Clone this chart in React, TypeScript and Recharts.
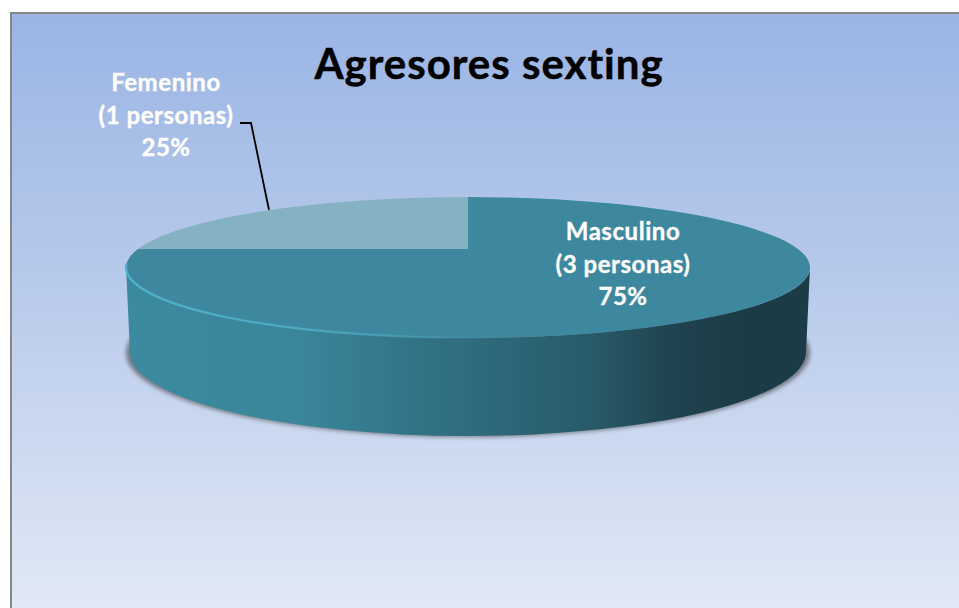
import React from "react";
import { PieChart, Pie } from "recharts";

const categories = ["Masculino", "Femenino"];
const personas = [3, 1];
const percentages = ["75%", "25%"];
const chartTitle = "Agresores sexting";
const sliceColors = ["#3e889f", "#85b2c3"];

const tableData = categories.map((name, i) => ({
  name,
  value: personas[i],
  percentage: percentages[i],
  fill: sliceColors[i],
}));

const W = 959;
const H = 608;
const FONT = "Lato, Carlito, Calibri, sans-serif";
const APEX_X = 468;
const APEX_Y = 249;
const RX = 342;
const RY = 70.5;
const FACE_CY = 267.5;
const BOTTOM_CY = 352;
const BOTTOM_RX = 338;
const BOTTOM_RY = 84;

const labelPos = [
  { x: 623, y: 240 },
  { x: 166, y: 91 },
];
const LINE_H = 32.5;

const rimPoint = (angle: number, cx: number, cy: number, rx: number) => {
  const rad = (angle * Math.PI) / 180;
  const py = (cy - FACE_CY) / RY;
  const dx = Math.cos(rad);
  const dy = -Math.sin(rad);
  const b = py * dy;
  const t = -b + Math.sqrt(b * b - (py * py - 1));
  return { x: cx + t * dx * rx, y: FACE_CY + (py + t * dy) * RY };
};

const Slice = (props: any) => {
  const { cx, cy, outerRadius, startAngle, endAngle, fill, index } = props;
  const a = rimPoint(startAngle, cx, cy, outerRadius);
  const b = rimPoint(endAngle, cx, cy, outerRadius);
  const large = Math.abs(endAngle - startAngle) > 180 ? 1 : 0;
  const top = `M${cx},${cy}L${a.x},${a.y}A${outerRadius},${RY} 0 ${large} 1 ${b.x},${b.y}Z`;
  const L = cx - outerRadius;
  const R = cx + outerRadius;
  const bL = cx - BOTTOM_RX;
  const bR = cx + BOTTOM_RX;
  return (
    <g>
      {index === 0 && (
        <g>
          <ellipse cx={cx} cy={BOTTOM_CY + 1} rx={BOTTOM_RX + 4} ry={BOTTOM_RY} fill="#4a4a4a" opacity={0.65} filter="url(#soft)" />
          <path
            d={`M${L},${FACE_CY}L${bL},${BOTTOM_CY}A${BOTTOM_RX},${BOTTOM_RY} 0 0 0 ${bR},${BOTTOM_CY}L${R},${FACE_CY}A${outerRadius},${RY} 0 0 1 ${L},${FACE_CY}Z`}
            fill="url(#wall)"
          />
        </g>
      )}
      <path d={top} fill={fill} />
      {index === 0 && (
        <path
          d={`M${L + 0.5},${FACE_CY - 4}A${outerRadius},${RY} 0 0 0 ${cx + 30},${FACE_CY + RY - 0.5}`}
          fill="none"
          stroke="url(#rim)"
          strokeWidth={2.2}
          filter="url(#softRim)"
        />
      )}
    </g>
  );
};

const SliceLabel = (props: any) => {
  const { index, payload } = props;
  const p = labelPos[index];
  const item = payload ?? tableData[index];
  const lines = [item.name, `(${item.value} personas)`, item.percentage];
  return (
    <text
      fill="#ffffff"
      stroke="#ffffff"
      strokeWidth={0.35}
      fontFamily={FONT}
      fontWeight={700}
      fontSize={24}
      letterSpacing={0.55}
      textAnchor="middle"
    >
      {lines.map((l: string, i: number) => (
        <tspan key={i} x={p.x} y={p.y + i * LINE_H}>
          {l}
        </tspan>
      ))}
    </text>
  );
};

const Leader = (props: any) => {
  if (props.index !== 1) return <g />;
  return <polyline points="240,123 251,123 269,210" fill="none" stroke="#000000" strokeWidth={1.8} />;
};

export default function App() {
  return (
    <div style={{ position: "absolute", left: 0, top: 0, width: W, height: H, background: "#fff", overflow: "hidden" }}>
      <PieChart width={W} height={H} margin={{ top: 0, right: 0, bottom: 0, left: 0 }}>
        <defs>
          <linearGradient id="bg" x1="0" y1="0" x2="0" y2="1">
            <stop offset="0" stopColor="#9ab4e4" />
            <stop offset="0.5" stopColor="#bccdec" />
            <stop offset="1" stopColor="#e3eaf6" />
          </linearGradient>
          <linearGradient id="wall" gradientUnits="userSpaceOnUse" x1="126" y1="0" x2="811" y2="0">
            <stop offset="0" stopColor="#3b8a9f" />
            <stop offset="0.25" stopColor="#3a869b" />
            <stop offset="0.4" stopColor="#337689" />
            <stop offset="0.55" stopColor="#2d6779" />
            <stop offset="0.68" stopColor="#285a69" />
            <stop offset="0.8" stopColor="#1f434f" />
            <stop offset="0.9" stopColor="#1b3b46" />
            <stop offset="1" stopColor="#1b3c47" />
          </linearGradient>
          <linearGradient id="rim" gradientUnits="userSpaceOnUse" x1="126" y1="0" x2="498" y2="0">
            <stop offset="0" stopColor="#4fb3cc" />
            <stop offset="0.5" stopColor="#4ba9c1" />
            <stop offset="1" stopColor="#4ba9c1" stopOpacity={0} />
          </linearGradient>
          <filter id="soft" x="-5%" y="-10%" width="110%" height="120%">
            <feGaussianBlur stdDeviation="2.2" />
          </filter>
          <filter id="softRim" x="-5%" y="-20%" width="110%" height="140%">
            <feGaussianBlur stdDeviation="0.6" />
          </filter>
        </defs>
        <rect x={11} y={13} width={W} height={H} fill="url(#bg)" stroke="#868686" strokeWidth={2} />
        <Pie
          data={tableData}
          dataKey="value"
          nameKey="name"
          cx={APEX_X}
          cy={APEX_Y}
          innerRadius={0}
          outerRadius={RX}
          startAngle={90}
          endAngle={-270}
          stroke="none"
          isAnimationActive={false}
          shape={Slice}
          label={SliceLabel}
          labelLine={Leader}
        />
        <text
          x={489}
          y={79}
          textAnchor="middle"
          fontFamily={FONT}
          fontWeight={700}
          fontSize={42}
          letterSpacing={1}
          stroke="#000000"
          strokeWidth={0.5}
          fill="#000000"
        >
          {chartTitle}
        </text>
      </PieChart>
    </div>
  );
}
